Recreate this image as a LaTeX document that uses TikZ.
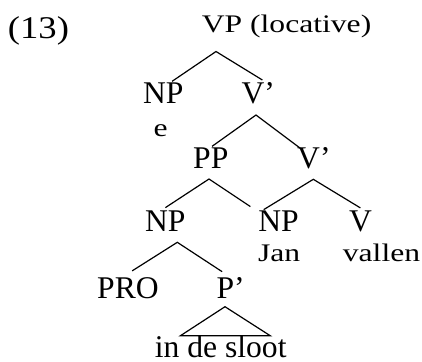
\documentclass[tikz,border=0pt]{standalone}
\usepackage{fontspec}
\usepackage{graphicx}
\setmainfont{Liberation Serif}
\usetikzlibrary{calc}

\newcommand{\squat}[1]{\scalebox{1}[0.8]{#1}}

\tikzset{
    cat/.style={anchor=base west, inner sep=0pt, font=\fontsize{15.8}{19}\selectfont},
    branch/.style={line width=0.6pt}
}

\begin{document}
\begin{tikzpicture}[x=0.5pt, y=-0.5pt]
    \useasboundingbox (0,0) rectangle (422,361);

    % Labels
    \node[cat] (ex) at (7.5,38.5) {\scalebox{1.16}[1]{(13)}};
    \node[cat] (vp) at (201.5,32.5) {\squat{VP (locative)}};
    \node[cat] (np1) at (142.6,103.3) {NP};
    \node[cat] (vb1) at (241.2,103.3) {V’};
    \node[cat] (e) at (153.2,136.5) {\squat{e}};
    \node[cat] (pp) at (192.8,168.3) {PP};
    \node[cat] (vb2) at (296.8,168.3) {V’};
    \node[cat] (np2) at (144.6,231.7) {NP};
    \node[cat] (np3) at (257.9,231.7) {NP};
    \node[cat] (v) at (348.8,231.7) {V};
    \node[cat] (jan) at (257.7,261.7) {\squat{Jan}};
    \node[cat] (vallen) at (342.5,261.7) {\squat{vallen}};
    \node[cat] (pro) at (96.8,298.3) {PRO};
    \node[cat] (pb) at (216.2,298.3) {P’};
    \node[cat] (sloot) at (154.5,357.5) {in de sloot};

    % Branching points
    \coordinate (vp-r) at (216,51.5);
    \coordinate (vb1-r) at (256,115);
    \coordinate (pp-r) at (209,179);
    \coordinate (vb2-r) at (313.3,179.3);
    \coordinate (np2-r) at (177.3,242.3);
    \coordinate (pb-r) at (225,306.7);

    % Branches
    \draw[branch] ($(np1.north)+(8.9,-0.9)$) -- (vp-r) -- ($(vb1.north)+(4.1,-1.9)$);
    \draw[branch] ($(pp.north)+(1.3,-0.9)$) -- (vb1-r) -- ($(vb2.north)+(-13.5,1.4)$);
    \draw[branch] ($(np2.north)+(0.2,-3)$) -- (pp-r) -- ($(np3.north)+(-28.1,-4)$);
    \draw[branch] ($(np3.north)+(-14.8,-1)$) -- (vb2-r) -- ($(v.north)+(-0.2,-2.7)$);
    \draw[branch] ($(pro.north)+(4.2,-6.1)$) -- (np2-r) -- ($(pb.north)+(-8.5,-5.2)$);
    \draw[branch] (pb-r) -- ($(sloot.north)+(-40.4,0.6)$) -- ($(sloot.north)+(49.6,0.6)$) -- cycle;
\end{tikzpicture}
\end{document}
